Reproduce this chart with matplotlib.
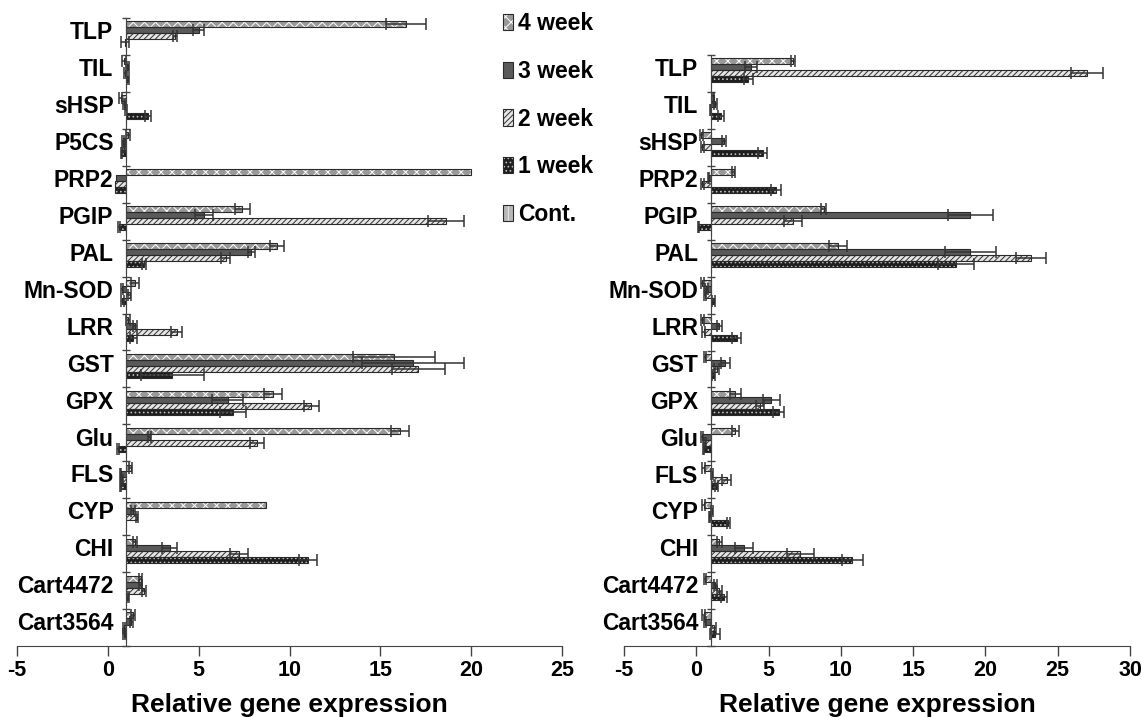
import matplotlib
matplotlib.use("Agg")
import matplotlib.pyplot as plt
import numpy as np
from matplotlib.patches import Patch
from matplotlib.ticker import FixedLocator

plt.rcParams['font.family'] = ['Liberation Sans', 'DejaVu Sans']
plt.rcParams['font.weight'] = 'bold'
plt.rcParams['hatch.linewidth'] = 0.7
plt.rcParams['axes.unicode_minus'] = False

# ---- data ----
weeks = ["4 week", "3 week", "2 week", "1 week", "Cont."]

left_genes = ["TLP", "TIL", "sHSP", "P5CS", "PRP2", "PGIP", "PAL", "Mn-SOD", "LRR",
              "GST", "GPX", "Glu", "FLS", "CYP", "CHI", "Cart4472", "Cart3564"]
left_w4 = [16.4, 0.9, 0.7, 1.1, 20.0, 7.4, 9.3, 1.5, 1.1, 15.75, 9.1, 16.1, 1.25, 8.7, 1.5, 1.8, 1.4]
left_w4_err = [1.1, 0.1, 0.1, 0.1, 0.0, 0.4, 0.4, 0.2, 0.1, 2.25, 0.5, 0.5, 0.1, 0.0, 0.1, 0.1, 0.1]
left_w3 = [5.0, 1.1, 0.9, 0.85, 0.45, 5.3, 7.9, 0.8, 1.5, 16.8, 6.6, 2.3, 0.7, 1.4, 3.4, 1.8, 1.3]
left_w3_err = [0.3, 0.05, 0.05, 0.05, 0.0, 0.5, 0.2, 0.05, 0.1, 2.8, 0.85, 0.1, 0.05, 0.1, 0.4, 0.1, 0.1]
left_w2 = [3.7, 0.95, 1.0, 0.9, 0.4, 18.6, 6.5, 1.2, 3.8, 17.1, 11.2, 8.2, 0.8, 1.6, 7.2, 2.0, 0.9]
left_w2_err = [0.1, 0.05, 0.05, 0.05, 0.0, 1.0, 0.25, 0.1, 0.3, 1.45, 0.4, 0.4, 0.05, 0.05, 0.5, 0.1, 0.05]
left_w1 = [0.95, 1.1, 2.2, 0.75, 0.4, 0.6, 2.0, 0.8, 1.4, 3.55, 6.9, 0.55, 0.7, 1.0, 11.0, 1.1, 0.9]
left_w1_err = [0.2, 0.05, 0.15, 0.05, 0.0, 0.05, 0.1, 0.1, 0.2, 1.75, 0.7, 0.05, 0.05, 0.0, 0.5, 0.05, 0.05]
left_cont = [1.0] * len(left_genes)

right_genes = ["TLP", "TIL", "sHSP", "PRP2", "PGIP", "PAL", "Mn-SOD", "LRR", "GST",
               "GPX", "Glu", "FLS", "CYP", "CHI", "Cart4472", "Cart3564"]
right_w4 = [6.7, 1.2, 0.35, 2.6, 8.8, 9.8, 0.4, 0.4, 0.6, 2.7, 2.7, 0.5, 0.5, 1.6, 0.6, 0.5]
right_w4_err = [0.15, 0.05, 0.1, 0.1, 0.2, 0.6, 0.1, 0.1, 0.1, 0.4, 0.25, 0.1, 0.1, 0.2, 0.1, 0.1]
right_w3 = [3.8, 1.3, 1.9, 0.85, 18.95, 18.95, 0.7, 1.6, 2.0, 5.2, 0.4, 1.1, 1.1, 3.3, 1.3, 0.6]
right_w3_err = [0.4, 0.1, 0.15, 0.05, 1.55, 1.75, 0.1, 0.15, 0.3, 0.6, 0.05, 0.05, 0.05, 0.65, 0.1, 0.1]
right_w2 = [27.0, 1.0, 0.4, 0.4, 6.7, 23.15, 0.6, 0.5, 1.4, 4.4, 0.6, 2.1, 0.9, 7.2, 1.6, 1.2]
right_w2_err = [1.1, 0.05, 0.1, 0.1, 0.6, 1.05, 0.1, 0.1, 0.2, 0.3, 0.05, 0.3, 0.05, 0.95, 0.15, 0.15]
right_w1 = [3.6, 1.7, 4.6, 5.5, 0.15, 17.95, 1.2, 2.8, 1.2, 5.7, 0.5, 1.4, 2.2, 10.8, 1.9, 1.3]
right_w1_err = [0.3, 0.2, 0.3, 0.35, 0.05, 1.25, 0.1, 0.3, 0.1, 0.4, 0.05, 0.1, 0.1, 0.75, 0.2, 0.35]
right_cont = [1.0] * len(right_genes)

# style per series: face, hatch, hatch colour
styles = [
    ("#9a9a9a", "xxx", "white"),
    ("#5a5a5a", "", "#5a5a5a"),
    ("#e6e6e6", "//////", "#303030"),
    ("#1e1e1e", "....", "#bdbdbd"),
    ("#b8b8b8", "|||", "#e8e8e8"),
]
outline = "#2a2a2a"
bh = 0.163


def panel(ax, genes, series, errs, xmax, xticks):
    n = len(genes)
    ypos = np.arange(n)[::-1]
    for k, (vals, err) in enumerate(zip(series, errs)):
        face, hatch, hc = styles[k]
        y = ypos + (2 - k) * bh
        d = np.array(vals) - 1.0
        ax.barh(y, d, left=1, height=bh, color=face, edgecolor=hc, hatch=hatch,
                linewidth=0, zorder=2)
        ax.barh(y, d, left=1, height=bh, fill=False, edgecolor=outline,
                linewidth=0.8, zorder=3)
        e = np.array(err)
        m = e > 0
        ax.errorbar(np.array(vals)[m], y[m], xerr=e[m], fmt='none', ecolor='#333333',
                    elinewidth=1.1, capsize=4, capthick=1.1, zorder=4)
    ax.set_xlim(-5, xmax)
    ax.set_ylim(-0.5, n - 0.5)
    ax.spines['top'].set_visible(False)
    ax.spines['right'].set_visible(False)
    ax.spines['left'].set_position(('data', 1))
    ax.spines['left'].set_color('#444444')
    ax.spines['bottom'].set_color('#444444')
    ax.spines['left'].set_zorder(5)
    ax.set_xticks(xticks)
    ax.tick_params(axis='x', direction='out', length=7, width=1, colors='#444444',
                   labelsize=15.5, labelcolor='black', pad=3)
    ax.set_yticks(ypos + 0.17)
    ax.set_yticklabels(genes, fontsize=16.5, fontweight='bold')
    ax.tick_params(axis='y', which='major', length=0, pad=9)
    ax.yaxis.set_minor_locator(FixedLocator(np.arange(-0.5, n, 1.0)))
    ax.tick_params(axis='y', which='minor', direction='inout', length=6, width=1,
                   colors='#444444')
    for t in ax.get_xticklabels():
        t.set_fontweight('bold')
    ax.set_xlabel("Relative gene expression", fontsize=19, fontweight='bold', labelpad=9)


fig = plt.figure(figsize=(11.41, 7.17), dpi=100)
ax1 = fig.add_axes([17 / 1141, 71 / 717, 545 / 1141, (646 - 18) / 717])
ax2 = fig.add_axes([624 / 1141, 71 / 717, 506 / 1141, (646 - 55) / 717])

panel(ax1, left_genes, [left_w4, left_w3, left_w2, left_w1, left_cont],
      [left_w4_err, left_w3_err, left_w2_err, left_w1_err, [0] * len(left_genes)],
      25, [-5, 0, 5, 10, 15, 20, 25])
panel(ax2, right_genes, [right_w4, right_w3, right_w2, right_w1, right_cont],
      [right_w4_err, right_w3_err, right_w2_err, right_w1_err, [0] * len(right_genes)],
      30, [-5, 0, 5, 10, 15, 20, 25, 30])

handles = []
for face, hatch, hc in styles:
    handles.append((Patch(facecolor=face, edgecolor=hc, hatch=hatch, linewidth=0),
                    Patch(fill=False, edgecolor=outline, linewidth=0.8)))
fig.legend(handles, weeks, loc='upper left', bbox_to_anchor=(503 / 1141, 1 - 12 / 717),
           frameon=False, handlelength=0.45, handleheight=0.7,
           handletextpad=0.2, labelspacing=1.08, borderpad=0, borderaxespad=0,
           prop={'weight': 'bold', 'size': 16.5})

fig.savefig("out.png", dpi=100)
